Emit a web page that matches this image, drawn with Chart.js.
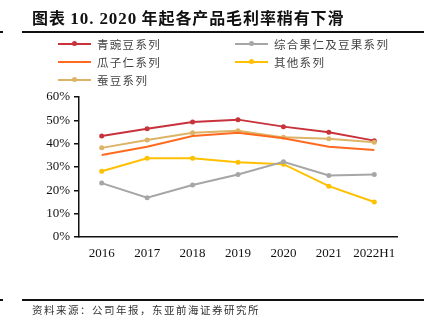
<!DOCTYPE html>
<html>
<head>
<meta charset="utf-8">
<script src="https://cdn.jsdelivr.net/npm/chart.js@4/dist/chart.umd.min.js"></script>
<style>
  body { margin: 0; background: #fff; }
  #wrap { position: relative; width: 424px; height: 325px; overflow: hidden; font-family: "Noto Sans CJK SC", sans-serif; }
  #chart { position: absolute; left: 0; top: 0; }
  .title { position: absolute; left: 32px; top: 5px; font-size: 16px; font-weight: bold; color: #111; white-space: nowrap; letter-spacing: 0.9px; }
  .title .num { font-family: "Liberation Serif", serif; font-size: 17px; }
  .rule { position: absolute; left: 22px; right: 0; height: 1.5px; background: #111; }
  .tick { position: absolute; left: 0; width: 3px; height: 1.5px; background: #111; }
  .legend { position: absolute; font-size: 11.5px; color: #444; }
  .legend .item { position: absolute; white-space: nowrap; height: 18px; line-height: 18px; }
  .legend .swatch { position: absolute; left: 0; top: 8px; width: 33px; height: 2px; }
  .legend .dot { position: absolute; left: 14px; top: -2px; width: 5px; height: 5px; border-radius: 50%; }
  .legend .label { position: absolute; left: 39px; top: 0; letter-spacing: 1.3px; }
  .source { position: absolute; left: 32px; top: 302px; font-size: 10.5px; color: #333; letter-spacing: 1.5px; white-space: nowrap; }
</style>
</head>
<body>
<div id="wrap">
  <canvas id="chart" width="424" height="325"></canvas>
  <div class="title">图表 <span class="num">10. 2020</span> 年起各产品毛利率稍有下滑</div>
  <div class="tick" style="top:31px"></div>
  <div class="rule" style="top:31px"></div>
  <div class="legend" id="legend"></div>
  <div class="tick" style="top:299px"></div>
  <div class="rule" style="top:299px"></div>
  <div class="source">资料来源：公司年报，东亚前海证券研究所</div>
</div>
<script>
const categories = ["2016", "2017", "2018", "2019", "2020", "2021", "2022H1"];
const seriesNames = ["青豌豆系列", "综合果仁及豆果系列", "瓜子仁系列", "其他系列", "蚕豆系列"];
const greenPea   = [43.3, 46.4, 49.3, 50.3, 47.3, 44.9, 41.3];
const mixedNuts  = [23.1, 16.8, 22.3, 26.8, 32.2, 26.4, 26.8];
const seedKernel = [35.1, 38.7, 43.3, 44.7, 42.3, 38.7, 37.3];
const others     = [28.2, 33.7, 33.7, 32.0, 31.2, 21.8, 15.0];
const broadBean  = [38.2, 41.6, 44.7, 45.5, 42.7, 42.1, 40.6];
const yTicks = [0, 10, 20, 30, 40, 50, 60];

const colors = ["#C8323A", "#A6A6A6", "#FF6A1F", "#FFC000", "#DDB366"];
const showDots = [true, true, false, true, true];
const values = [greenPea, mixedNuts, seedKernel, others, broadBean];

// datasets drawn in this order so the red line stays on top
const drawOrder = [1, 3, 2, 4, 0];
const datasets = drawOrder.map(i => ({
  label: seriesNames[i],
  data: values[i],
  borderColor: colors[i],
  backgroundColor: colors[i],
  borderWidth: 2,
  pointRadius: showDots[i] ? 2.5 : 0,
  pointBorderWidth: 0,
  tension: 0
}));

// two-column legend
const legend = document.getElementById("legend");
const legendPos = [[58, 35], [235, 35], [58, 53], [235, 53], [58, 71]];
seriesNames.forEach((name, i) => {
  const item = document.createElement("div");
  item.className = "item";
  item.style.left = legendPos[i][0] + "px";
  item.style.top = legendPos[i][1] + "px";
  item.innerHTML = '<div class="swatch" style="background:' + colors[i] + '">' +
    (showDots[i] ? '<div class="dot" style="background:' + colors[i] + '"></div>' : '') +
    '</div><div class="label">' + name + '</div>';
  legend.appendChild(item);
});

const serif = "'Liberation Serif', 'Times New Roman', serif";

new Chart(document.getElementById("chart").getContext("2d"), {
  type: "line",
  data: { labels: categories, datasets: datasets },
  options: {
    responsive: false,
    animation: false,
    layout: { padding: { left: 0, top: 97, right: 27, bottom: 58 } },
    plugins: { legend: { display: false }, tooltip: { enabled: false } },
    scales: {
      x: {
        offset: true,
        grid: { display: false, drawTicks: false },
        border: { color: "#111", width: 1.5 },
        ticks: { color: "#111", font: { family: serif, size: 13 }, padding: 9, maxRotation: 0 },
        afterFit: s => { s.height = 30; }
      },
      y: {
        min: 0,
        max: 60,
        afterBuildTicks: s => { s.ticks = yTicks.map(v => ({ value: v })); },
        grid: { drawOnChartArea: false, drawTicks: true, tickLength: 5, color: "#111", lineWidth: 1.5 },
        border: { color: "#111", width: 1.5 },
        ticks: { color: "#111", font: { family: serif, size: 13 }, padding: 4, callback: v => v + "%" },
        afterFit: s => { s.width = 79; }
      }
    }
  }
});
</script>
</body>
</html>
